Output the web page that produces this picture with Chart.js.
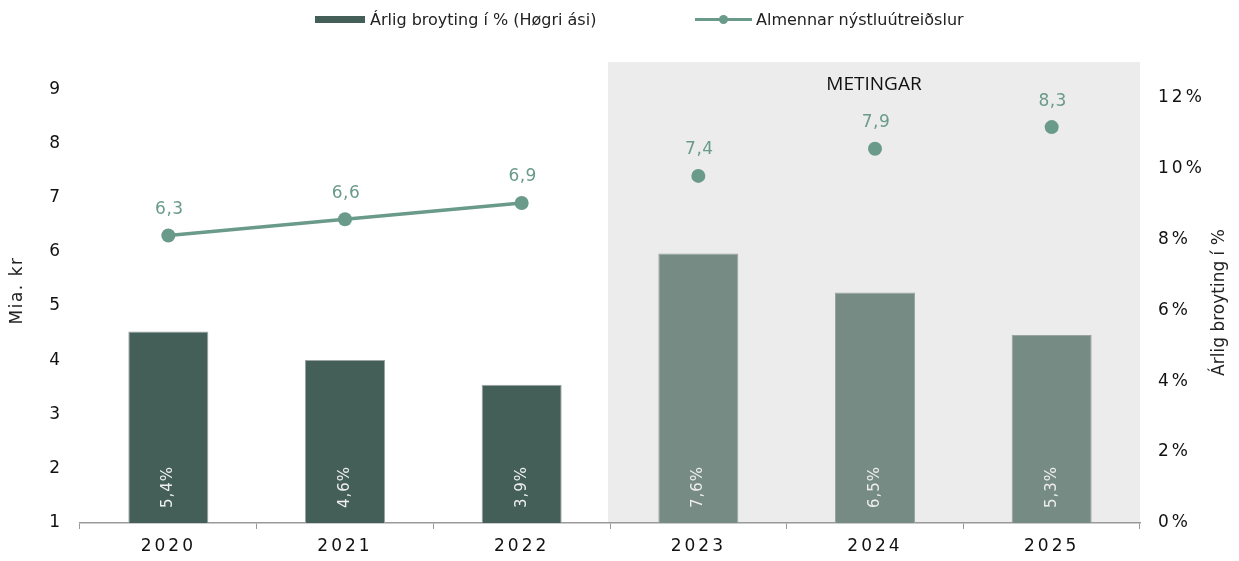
<!DOCTYPE html>
<html>
<head>
<meta charset="utf-8">
<script src="https://cdn.jsdelivr.net/npm/chart.js@4.4.0/dist/chart.umd.min.js"></script>
<style>
  html, body { margin: 0; padding: 0; background: #fff; }
  #wrap { position: relative; width: 1239px; height: 561px; }
  #legend { position: absolute; top: 9px; left: 0; width: 1239px; height: 20px; font: 16px "DejaVu Sans", sans-serif; color: #222; }
  .item { position: absolute; top: 0; height: 20px; display: flex; align-items: center; white-space: nowrap; }
  .box { width: 50px; height: 7px; background: #445e58; margin-right: 5px; }
  .ln { position: relative; width: 57px; height: 3px; background: #6a9a8a; margin-right: 4px; }
  .ln span { position: absolute; left: 24px; top: -3px; width: 9px; height: 9px; border-radius: 50%; background: #6a9a8a; }
</style>
</head>
<body>
<div id="wrap">
  <canvas id="chart1" width="1239" height="561"></canvas>
  <div id="legend">
    <div class="item" style="left:315px"><div class="box"></div>Árlig broyting í % (Høgri ási)</div>
    <div class="item" style="left:695px"><div class="ln"><span></span></div>Almennar nýstluútreiðslur</div>
  </div>
</div>
<script>
var years = ['2020', '2021', '2022', '2023', '2024', '2025'];
var growthPct = [5.4, 4.6, 3.9, 7.6, 6.5, 5.3];        // bars, right axis
var actualBn = [6.3, 6.6, 6.9, null, null, null];      // line, left axis
var forecastBn = [null, null, null, 7.4, 7.9, 8.3];    // dots only
var forecastFrom = 3;
var leftTicks = [1, 2, 3, 4, 5, 6, 7, 8, 9];
var rightTicks = [0, 2, 4, 6, 8, 10, 12];

var darkGreen = '#445e58';
var greyGreen = '#778b85';
var lineGreen = '#6a9a8a';
var barColors = years.map(function (y, i) { return i < forecastFrom ? darkGreen : greyGreen; });

function comma(v, d) { return v.toFixed(d).replace('.', ','); }

// grey forecast band + METINGAR text
var bandPlugin = {
    id: 'band',
    beforeDraw: function (chart) {
        var ctx = chart.ctx, a = chart.chartArea, x = chart.scales.x;
        var left = x.getPixelForValue(forecastFrom - 0.5) - 2;
        ctx.save();
        ctx.fillStyle = '#ececec';
        ctx.fillRect(left, a.top, a.right - left, a.bottom - a.top);
        ctx.letterSpacing = '0px';
        ctx.fillStyle = '#111';
        ctx.font = '19px "Open Sans", sans-serif';
        ctx.textAlign = 'center';
        ctx.textBaseline = 'middle';
        ctx.fillText('METINGAR', (left + a.right) / 2, 85);
        ctx.restore();
        ctx.letterSpacing = '3px';
    },
    beforeLayout: function (chart) {
        chart.ctx.letterSpacing = '3px';
    }
};

// value labels + axis titles
var labelPlugin = {
    id: 'labels',
    afterDatasetsDraw: function (chart) {
        var ctx = chart.ctx, a = chart.chartArea;
        ctx.save();
        // bar labels, rotated
        ctx.font = '15px "DejaVu Sans", sans-serif';
        ctx.letterSpacing = '1px';
        ctx.fillStyle = '#eeeeee';
        ctx.textAlign = 'center';
        ctx.textBaseline = 'middle';
        chart.getDatasetMeta(0).data.forEach(function (bar, i) {
            ctx.save();
            ctx.translate(bar.x, a.bottom - 36);
            ctx.rotate(-Math.PI / 2);
            ctx.fillText(comma(growthPct[i], 1) + '%', 0, 0);
            ctx.restore();
        });
        // point labels
        ctx.font = '17px "DejaVu Sans", sans-serif';
        ctx.letterSpacing = '0.5px';
        ctx.fillStyle = lineGreen;
        [1, 2].forEach(function (di) {
            var vals = chart.data.datasets[di].data;
            chart.getDatasetMeta(di).data.forEach(function (pt, i) {
                if (vals[i] == null) return;
                ctx.fillText(comma(vals[i], 1), pt.x + 1, pt.y - 26);
            });
        });
        // axis titles
        ctx.fillStyle = '#222';
        ctx.font = '17px "DejaVu Sans", sans-serif';
        var mid = (a.top + a.bottom) / 2;
        ctx.save();
        ctx.letterSpacing = '1.5px';
        ctx.translate(18, mid - 2);
        ctx.rotate(-Math.PI / 2);
        ctx.fillText('Mia. kr', 0, 0);
        ctx.restore();
        ctx.save();
        ctx.letterSpacing = '0px';
        ctx.translate(1220, mid + 10);
        ctx.rotate(-Math.PI / 2);
        ctx.fillText('Árlig broyting í %', 0, 0);
        ctx.restore();
        ctx.restore();
        ctx.letterSpacing = '3px';
    }
};

var tickFont = { family: '"DejaVu Sans", sans-serif', size: 17 };

var ctxChart1 = document.getElementById('chart1').getContext('2d');
var chart1 = new Chart(ctxChart1, {
    type: 'bar',
    plugins: [bandPlugin, labelPlugin],
    data: {
        labels: years,
        datasets: [{
            type: 'bar',
            label: 'Árlig broyting í % (Høgri ási)',
            data: growthPct,
            backgroundColor: barColors,
            borderColor: '#9aa5a2',
            borderWidth: 1,
            barPercentage: 0.453,
            categoryPercentage: 1,
            yAxisID: 'y1',
            order: 2
        }, {
            type: 'line',
            label: 'Almennar nýstluútreiðslur',
            data: actualBn,
            borderColor: lineGreen,
            backgroundColor: lineGreen,
            borderWidth: 3.5,
            pointRadius: 7,
            pointHoverRadius: 7,
            pointBorderWidth: 0,
            tension: 0,
            spanGaps: false,
            yAxisID: 'y',
            order: 1
        }, {
            type: 'line',
            label: 'Metingar',
            data: forecastBn,
            showLine: false,
            borderColor: lineGreen,
            backgroundColor: lineGreen,
            pointRadius: 7,
            pointHoverRadius: 7,
            pointBorderWidth: 0,
            yAxisID: 'y',
            order: 1
        }]
    },
    options: {
        responsive: false,
        animation: false,
        layout: { padding: { top: 62, left: 0, right: 0, bottom: 0 } },
        plugins: {
            legend: { display: false },
            title: { display: false },
            tooltip: { enabled: false }
        },
        scales: {
            x: {
                offset: true,
                grid: { display: true, drawOnChartArea: false, drawTicks: true, tickLength: 6, color: '#999', offset: true },
                border: { display: true, color: '#999', width: 1.5 },
                ticks: { color: '#111', font: tickFont, padding: 7, maxRotation: 0 },
                afterFit: function (s) { s.height = 38; }
            },
            y: {
                position: 'left',
                min: 1,
                max: 9.5,
                grid: { display: false, drawTicks: false },
                border: { display: false },
                ticks: { color: '#111', font: tickFont, padding: 17 },
                afterBuildTicks: function (s) { s.ticks = leftTicks.map(function (v) { return { value: v }; }); },
                afterFit: function (s) { s.width = 80; }
            },
            y1: {
                position: 'right',
                min: 0,
                max: 13,
                grid: { display: false, drawTicks: false },
                border: { display: false },
                ticks: { color: '#111', font: tickFont, padding: 18, callback: function (v) { return v + '%'; } },
                afterBuildTicks: function (s) { s.ticks = rightTicks.map(function (v) { return { value: v }; }); },
                afterFit: function (s) { s.width = 99; }
            }
        }
    }
});
</script>
</body>
</html>
